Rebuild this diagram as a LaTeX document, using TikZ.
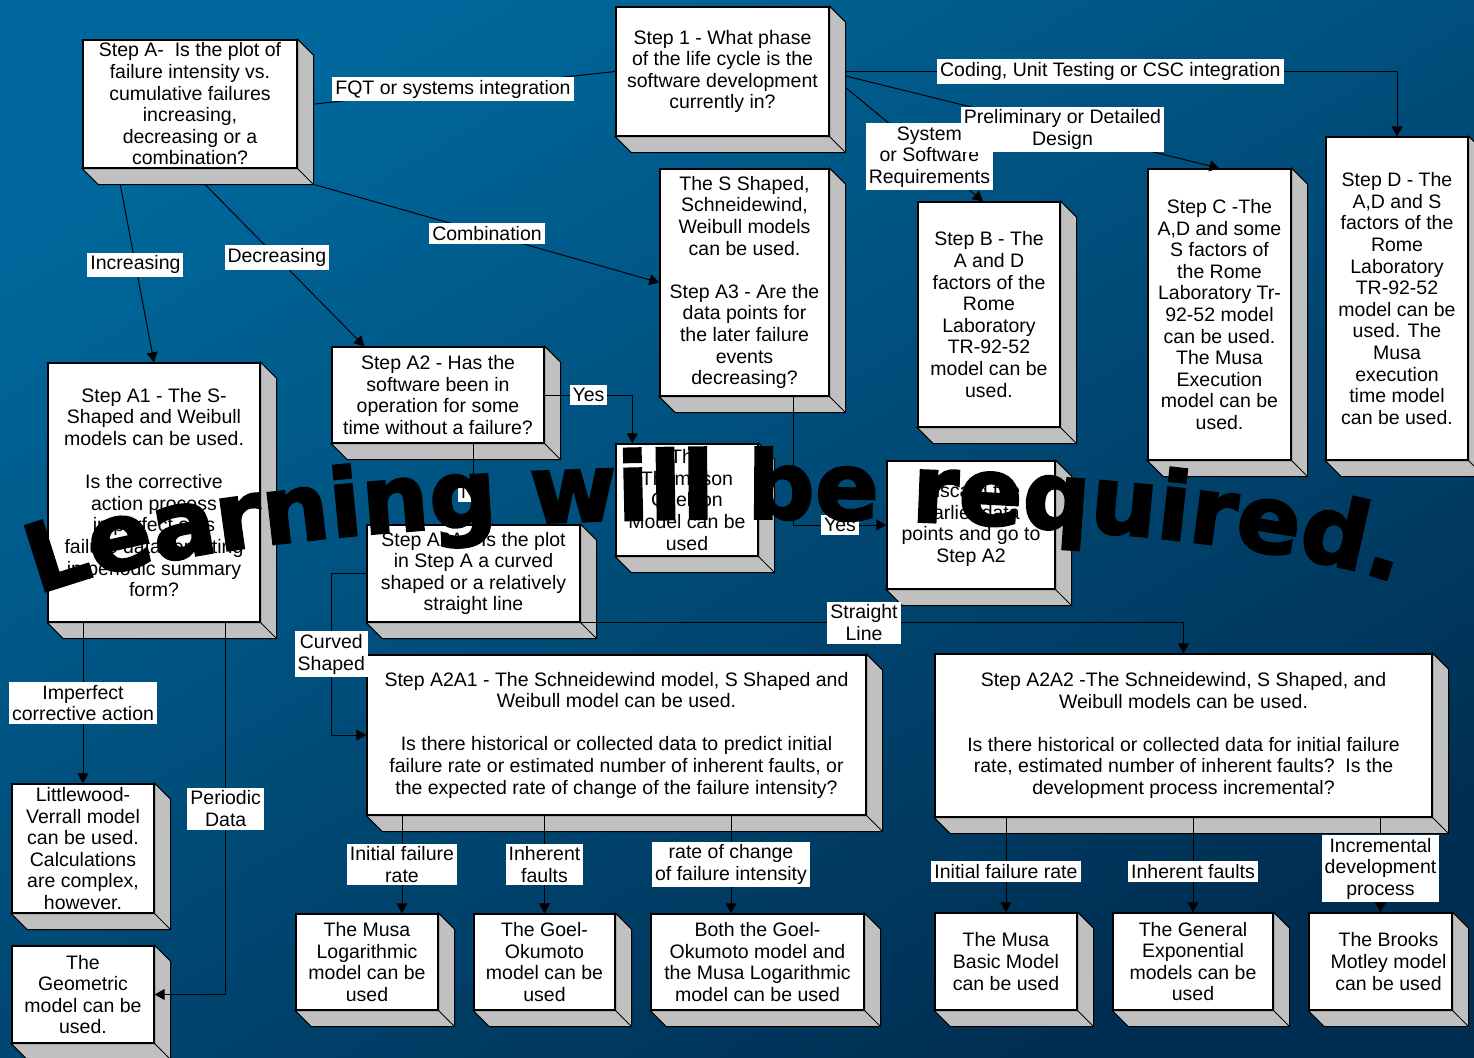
\documentclass[tikz,border=0pt]{standalone}
\usepackage{fontspec}
\setmainfont{Liberation Sans}
\newfontfamily\wordartfont{DejaVu Sans Bold}[FakeBold=2.5]
\usepackage{tikz}
\usetikzlibrary{arrows.meta,decorations.text}
\definecolor{bgtop}{RGB}{0,104,156}
\definecolor{bgbottom}{RGB}{0,46,82}
\definecolor{sidegrey}{RGB}{192,192,192}
\tikzset{>={Triangle[length=5pt,width=5.5pt]}}
\def\boxfont{\fontsize{9.75}{10.8}\selectfont}
\def\bigword{\wordartfont\fontsize{47}{47}\selectfont}

\begin{document}
\begin{tikzpicture}[x=0.5pt,y=-0.5pt,
  stepbox/.style={draw=black, line width=0.7pt, fill=white, align=center, inner sep=0pt, font=\boxfont},
  lbl/.style={fill=white, inner sep=1.5pt, align=center, font=\boxfont},
  flow/.style={draw=black, line width=0.5pt, ->},
  plain/.style={draw=black, line width=0.5pt}]
          \useasboundingbox (0,0) rectangle (1474,1057);
          \shade[top color=bgtop, bottom color=bgbottom, shading angle=30] (0,0) rectangle (1474,1057);

          \node[stepbox, minimum width=107pt, minimum height=64pt] (stepa) at (190,104) {Step A-\ \ Is the plot of\\failure intensity vs.\\cumulative failures\\increasing,\\decreasing or a\\combination?};
          \node[stepbox, minimum width=106.5pt, minimum height=64.5pt] (step1) at (722.5,71.5) {Step 1 - What phase\\of the life cycle is the\\software development\\currently in?};
          \node[stepbox, minimum width=84.5pt, minimum height=113.5pt] (stepa3) at (744.5,282.5) {The S Shaped,\\Schneidewind,\\Weibull models\\can be used.\\[10.8pt]Step A3 - Are the\\data points for\\the later failure\\events\\decreasing?};
          \node[stepbox, minimum width=71pt, minimum height=112.5pt] (stepb) at (989,314.5) {Step B - The\\A and D\\factors of the\\Rome\\Laboratory\\TR-92-52\\model can be\\used.};
          \node[stepbox, minimum width=71.5pt, minimum height=145.5pt] (stepc) at (1219.5,314.5) {Step C -The\\A,D and some\\S factors of\\the Rome\\Laboratory Tr-\\92-52 model\\can be used.\\The Musa\\Execution\\model can be\\used.};
          \node[stepbox, minimum width=71pt, minimum height=161.5pt] (stepd) at (1397,298.5) {Step D - The\\A,D and S\\factors of the\\Rome\\Laboratory\\TR-92-52\\model can be\\used. The\\Musa\\execution\\time model\\can be used.};
          \node[stepbox, minimum width=106pt, minimum height=129.5pt] (stepa1) at (154,492.5) {Step A1 - The S-\\Shaped and Weibull\\models can be used.\\[10.8pt]Is the corrective\\action process\\imperfect or is\\failure data reporting\\in periodic summary\\form?};
          \node[stepbox, minimum width=106pt, minimum height=48pt] (stepa2) at (438,395) {Step A2 - Has the\\software been in\\operation for some\\time without a failure?};
          \node[stepbox, minimum width=71pt, minimum height=56pt] (thompson) at (687,500) {The\\Thompson\\Chelson\\Model can be\\used};
          \node[stepbox, minimum width=84pt, minimum height=64pt] (discard) at (971,525) {Discard the\\earlier data\\points and go to\\Step A2};
          \node[stepbox, minimum width=106.5pt, minimum height=48.5pt] (stepa2a) at (473.5,573.5) {Step A2A - Is the plot\\in Step A a curved\\shaped or a relatively\\straight line};
          \node[stepbox, minimum width=249.5pt, minimum height=80pt] (stepa2a1) at (616.5,735) {Step A2A1 - The Schneidewind model, S Shaped and\\Weibull model can be used.\\[10.8pt]Is there historical or collected data to predict initial\\failure rate or estimated number of inherent faults, or\\the expected rate of change of the failure intensity?};
          \node[stepbox, minimum width=248.5pt, minimum height=81.5pt] (stepa2a2) at (1183.5,735.5) {Step A2A2 -The Schneidewind, S Shaped, and\\Weibull models can be used.\\[10.8pt]Is there historical or collected data for initial failure\\rate, estimated number of inherent faults?\ \ Is the\\development process incremental?};
          \node[stepbox, minimum width=71pt, minimum height=64.5pt] (littlewood) at (83,848.5) {Littlewood-\\Verrall model\\can be used.\\Calculations\\are complex,\\however.};
          \node[stepbox, minimum width=71pt, minimum height=48.5pt] (geometric) at (83,994.5) {The\\Geometric\\model can be\\used.};
          \node[stepbox, minimum width=71pt, minimum height=48pt] (musalog) at (367,962) {The Musa\\Logarithmic\\model can be\\used};
          \node[stepbox, minimum width=70.5pt, minimum height=48pt] (goel) at (544.5,962) {The Goel-\\Okumoto\\model can be\\used};
          \node[stepbox, minimum width=106.5pt, minimum height=48pt] (both) at (757.5,962) {Both the Goel-\\Okumoto model and\\the Musa Logarithmic\\model can be used};
          \node[stepbox, minimum width=71pt, minimum height=48.5pt] (musabasic) at (1006,961.5) {The Musa\\Basic Model\\can be used};
          \node[stepbox, minimum width=80pt, minimum height=48.5pt] (genexp) at (1193,961.5) {The General\\Exponential\\models can be\\used};
          \node[stepbox, minimum width=71.5pt, minimum height=48.5pt] (brooks) at (1380.5,961.5) {\hspace*{8pt}The Brooks\\\hspace*{8pt}Motley model\\\hspace*{8pt}can be used};

          \foreach \b in {stepa,step1,stepa3,stepb,stepc,stepd,stepa1,stepa2,thompson,discard,stepa2a,stepa2a1,stepa2a2,littlewood,geometric,musalog,goel,both,musabasic,genexp,brooks}{
            \filldraw[fill=sidegrey, draw=black, line width=0.5pt] (\b.north east) -- ++(8pt,-8pt) -- ([shift={(8pt,-8pt)}]\b.south east) -- ([shift={(8pt,-8pt)}]\b.south west) -- (\b.south west) -- (\b.south east) -- cycle;
            \draw[line width=0.5pt] (\b.south east) -- ++(8pt,-8pt);
          }

          \coordinate (mlin) at ([xshift=17.5pt]musalog.north);
          \coordinate (bothin) at ([xshift=-13.25pt]both.north);
          \coordinate (yesin) at ([xshift=8.5pt]thompson.north west);

          \draw[plain] ([xshift=8.5pt]stepa.east) -- node[lbl, pos=0.46] {FQT or systems integration} (step1.west);
          \draw[flow] ([xshift=8pt]step1.east) -| node[lbl, pos=0.24] {Coding, Unit Testing or CSC integration} (stepd.north);
          \draw[flow] ([xshift=8pt,yshift=-8pt]step1.east) -- node[lbl, pos=0.61] {System\\or Software\\Requirements} ([xshift=-3pt]stepb.north);
          \draw[flow] ([xshift=8pt,yshift=-2.25pt]step1.east) -- node[lbl, pos=0.58] {Preliminary or Detailed\\Design} (stepc.north);
          \draw[flow] ([xshift=19pt,yshift=-8pt]stepa.south west) -- node[lbl, pos=0.45] {Increasing} (stepa1.north);
          \draw[flow] ([xshift=61.5pt,yshift=-8pt]stepa.south west) -- node[lbl, pos=0.45] {Decreasing} ([xshift=16.5pt]stepa2.north west);
          \draw[flow] ([xshift=8.5pt,yshift=-8pt]stepa.south east) -- node[lbl, pos=0.5] {Combination} (stepa3.west);
          \draw[flow] (stepa2.east) -| node[lbl, pos=0.25] {Yes} (yesin);
          \draw[flow] ([xshift=-18pt]stepa3.south east) |- node[lbl, pos=0.75] {Yes} (discard.west);
          \draw[flow] (stepa2.south -| stepa2a.north) -- node[lbl, pos=0.6] {No} (stepa2a.north);
          \draw[flow] (stepa2a.west) -- ++(-17.5pt,0) |- node[lbl, pos=0.25] {Curved\\Shaped} (stepa2a1.west);
          \draw[flow] (stepa2a.south east) -| node[lbl, pos=0.235] {Straight\\Line} (stepa2a2.north);
          \draw[flow] (stepa1.south -| littlewood.north) -- node[lbl, pos=0.5] {Imperfect\\corrective action} (littlewood.north);
          \draw[flow] ([xshift=-17.5pt]stepa1.south east) |- node[lbl, pos=0.25] {Periodic\\Data} (geometric.east);
          \draw[flow] (mlin |- stepa2a1.south) -- node[lbl] {Initial failure\\rate} (mlin);
          \draw[flow] (goel.north |- stepa2a1.south) -- node[lbl] {Inherent\\faults} (goel.north);
          \draw[flow] (bothin |- stepa2a1.south) -- node[lbl] {rate of change\\of failure intensity} (bothin);
          \draw[flow] (musabasic.north |- stepa2a2.south) -- node[lbl, pos=0.57] {Initial failure rate} (musabasic.north);
          \draw[flow] (genexp.north |- stepa2a2.south) -- node[lbl, pos=0.57] {Inherent faults} (genexp.north);
          \draw[flow] (brooks.north |- stepa2a2.south) -- node[lbl, pos=0.54] {Incremental\\development\\process} (brooks.north);

          \path[decorate, decoration={text along path, text align=center,
            text={|\bigword|Learning will be required.}}]
            (35,596) .. controls (280,496) and (1152,494) .. (1398,584);
        \end{tikzpicture}
\end{document}
